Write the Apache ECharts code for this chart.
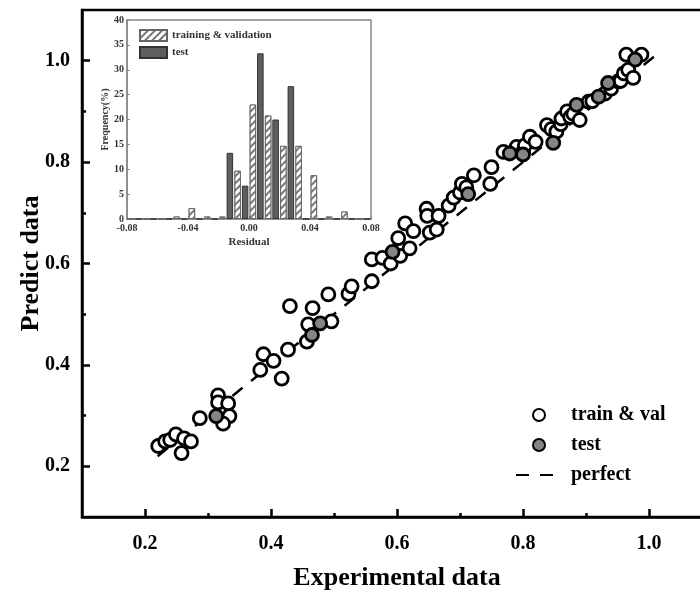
<!DOCTYPE html>
<html>
<head>
<meta charset="utf-8">
<script src="https://cdn.jsdelivr.net/npm/echarts@6/dist/echarts.min.js"></script>
<style>
html,body{margin:0;padding:0;background:#fff;}
#chart{width:700px;height:592px;}
</style>
</head>
<body>
<div id="chart"></div>
<script>
// ---- main scatter data ----
const trainX = [0.221,0.232,0.240,0.249,0.258,0.262,0.273,0.287,0.316,0.316,0.332,0.334,0.324,
  0.383,0.388,0.404,0.417,0.427,0.430,0.466,0.459,0.496,0.457,0.491,0.523,0.528,
  0.560,0.560,0.577,0.590,0.605,0.602,0.613,0.620,0.626,0.647,0.648,0.652,0.663,0.666,0.682,
  0.690,0.700,0.703,0.710,0.722,0.748,0.750,0.769,0.790,0.800,0.803,0.811,0.820,0.838,0.845,
  0.853,0.860,0.861,0.870,0.875,0.880,0.890,0.904,0.910,0.930,0.940,0.951,0.955,0.960,0.967,
  0.975,0.964,0.988];
const trainY = [0.240,0.249,0.252,0.263,0.226,0.255,0.249,0.295,0.340,0.326,0.324,0.299,0.284,
  0.390,0.421,0.408,0.373,0.430,0.516,0.512,0.480,0.486,0.446,0.539,0.540,0.555,
  0.565,0.608,0.611,0.600,0.615,0.650,0.679,0.630,0.664,0.708,0.694,0.661,0.667,0.694,0.714,
  0.730,0.740,0.757,0.750,0.774,0.757,0.790,0.820,0.830,0.820,0.833,0.850,0.840,0.873,0.865,
  0.860,0.875,0.886,0.900,0.889,0.895,0.883,0.919,0.920,0.935,0.945,0.959,0.960,0.975,0.982,
  0.966,1.012,1.012];
const testX = [0.313,0.465,0.478,0.593,0.713,0.779,0.800,0.848,0.885,0.920,0.935,0.978];
const testY = [0.299,0.459,0.482,0.623,0.737,0.817,0.815,0.838,0.913,0.929,0.956,1.002];
const perfectX = [0.22, 1.01];
const perfectY = [0.22, 1.01];

// ---- axis ticks ----
const majorTicks = [0.2, 0.4, 0.6, 0.8, 1.0];
const minorTicks = [0.3, 0.5, 0.7, 0.9];

// ---- inset histogram ----
const binCenters = ['-0.075','-0.065','-0.055','-0.045','-0.035','-0.025','-0.015','-0.005',
  '0.005','0.015','0.025','0.035','0.045','0.055','0.065','0.075'];
const trainFreq = [0,0,0,0.5,2.2,0.5,0.5,9.7,23.0,20.8,14.7,14.7,8.8,0.5,1.5,0];
const testFreq  = [0,0,0,0,0,0,13.3,6.7,33.3,20.0,26.7,0,0,0,0,0];

const zip = (a, b) => a.map((v, i) => [v, b[i]]);
const SERIF = 'Liberation Serif';

const chart = echarts.init(document.getElementById('chart'), null, {renderer: 'canvas'});
const bigLabel = {fontFamily: SERIF, fontWeight: 'bold', fontSize: 20, color: '#000'};
const smallLabel = {fontFamily: SERIF, fontWeight: 'bold', fontSize: 10, color: '#333'};

chart.setOption({
  backgroundColor: '#fff',
  animation: false,
  grid: [
    {left: 82, top: 10, width: 630, height: 507, outerBoundsMode: 'none', containLabel: false,
     show: true, borderColor: '#000', borderWidth: 2.5, backgroundColor: 'transparent'},
    {left: 127, top: 20, width: 244, height: 199, outerBoundsMode: 'none', containLabel: false,
     show: true, borderColor: '#888', borderWidth: 1.5, backgroundColor: '#fff', z: 5}
  ],
  xAxis: [
    {type: 'value', gridIndex: 0, position: 'bottom', min: 0.1, max: 1.1,
     name: 'Experimental data', nameLocation: 'middle', nameGap: 48,
     nameTextStyle: {fontFamily: SERIF, fontWeight: 'bold', fontSize: 26, color: '#000'},
     axisLine: {show: true, onZero: false, lineStyle: {color: '#000', width: 2.5}},
     axisTick: {show: true, inside: true, length: 8, customValues: majorTicks, lineStyle: {color: '#000', width: 2.5}},
     axisLabel: Object.assign({margin: 17, customValues: majorTicks, formatter: v => v.toFixed(1)}, bigLabel),
     splitLine: {show: false}},
    {type: 'value', gridIndex: 0, position: 'bottom', min: 0.1, max: 1.1,
     axisLine: {show: false, onZero: false},
     axisTick: {show: true, inside: true, length: 4, customValues: minorTicks, lineStyle: {color: '#000', width: 2.5}},
     axisLabel: {show: false}, splitLine: {show: false}},
    {type: 'value', gridIndex: 1, position: 'bottom', min: -0.08, max: 0.08, interval: 0.04,
     name: 'Residual', nameLocation: 'middle', nameGap: 18,
     nameTextStyle: Object.assign({}, smallLabel, {fontSize: 11}),
     axisLine: {show: true, onZero: false, lineStyle: {color: '#888', width: 1.5}},
     axisTick: {show: true, inside: true, length: 3, lineStyle: {color: '#888'}},
     axisLabel: Object.assign({margin: 4, formatter: v => v.toFixed(2)}, smallLabel),
     splitLine: {show: false}, z: 6},
    {type: 'category', gridIndex: 1, position: 'bottom', data: binCenters, show: false, boundaryGap: true,
     axisLine: {onZero: false}}
  ],
  yAxis: [
    {type: 'value', gridIndex: 0, position: 'left', min: 0.1, max: 1.1,
     name: 'Predict data', nameLocation: 'middle', nameGap: 38, nameMoveOverlap: false,
     nameTextStyle: {fontFamily: SERIF, fontWeight: 'bold', fontSize: 26, color: '#000'},
     axisLine: {show: true, onZero: false, lineStyle: {color: '#000', width: 2.5}},
     axisTick: {show: true, inside: true, length: 8, customValues: majorTicks, lineStyle: {color: '#000', width: 2.5}},
     axisLabel: Object.assign({margin: 12, customValues: majorTicks, formatter: v => v.toFixed(1)}, bigLabel),
     splitLine: {show: false}},
    {type: 'value', gridIndex: 0, position: 'left', min: 0.1, max: 1.1,
     axisLine: {show: false, onZero: false},
     axisTick: {show: true, inside: true, length: 4, customValues: minorTicks, lineStyle: {color: '#000', width: 2.5}},
     axisLabel: {show: false}, splitLine: {show: false}},
    {type: 'value', gridIndex: 1, position: 'left', min: 0, max: 40, interval: 5,
     name: 'Frequency(%)', nameLocation: 'middle', nameGap: 17,
     nameTextStyle: Object.assign({}, smallLabel, {fontSize: 10}),
     axisLine: {show: true, onZero: false, lineStyle: {color: '#888', width: 1.5}},
     axisTick: {show: true, inside: true, length: 3, lineStyle: {color: '#888'}},
     axisLabel: Object.assign({margin: 3}, smallLabel),
     splitLine: {show: false}, z: 6}
  ],
  legend: [
    {orient: 'vertical', left: 510, top: 400, itemWidth: 46, itemHeight: 12, itemGap: 10,
     data: ['train & val', 'test', 'perfect'],
     textStyle: {fontFamily: SERIF, fontWeight: 'bold', fontSize: 20, color: '#000', padding: [0, 0, 0, 4]}},
    {orient: 'vertical', left: 134, top: 24, itemWidth: 27, itemHeight: 11, itemGap: 4, icon: 'rect',
     data: ['training & validation', 'test_hist'],
     formatter: n => n === 'test_hist' ? 'test' : n,
     textStyle: {fontFamily: SERIF, fontWeight: 'bold', fontSize: 11, color: '#333'}, z: 10}
  ],
  series: [
    {name: 'perfect', type: 'line', xAxisIndex: 0, yAxisIndex: 0, data: zip(perfectX, perfectY),
     symbol: 'none', showSymbol: false, symbolSize: 0,
     itemStyle: {color: 'rgba(0,0,0,0)', borderWidth: 0},
     lineStyle: {color: '#000', width: 2.5, type: [13, 11]}, z: 1},
    {name: 'train & val', type: 'scatter', xAxisIndex: 0, yAxisIndex: 0, data: zip(trainX, trainY),
     symbol: 'circle', symbolSize: 13,
     itemStyle: {color: '#fff', borderColor: '#000', borderWidth: 2.8, opacity: 1}, z: 2},
    {name: 'test', type: 'scatter', xAxisIndex: 0, yAxisIndex: 0, data: zip(testX, testY),
     symbol: 'circle', symbolSize: 13,
     itemStyle: {color: '#858585', borderColor: '#000', borderWidth: 2.8, opacity: 1}, z: 3},
    {name: 'training & validation', type: 'bar', xAxisIndex: 3, yAxisIndex: 2, data: trainFreq,
     barWidth: 6.5, barGap: '15%',
     itemStyle: {color: '#fff', borderColor: '#666', borderWidth: 1,
       decal: {symbol: 'rect', symbolSize: 1, dashArrayX: [1, 0], dashArrayY: [1.5, 2.5], rotation: -Math.PI / 4, color: '#777', backgroundColor: '#fff'}},
     z: 7},
    {name: 'test_hist', type: 'bar', xAxisIndex: 3, yAxisIndex: 2, data: testFreq,
     barWidth: 6.5, barGap: '15%',
     itemStyle: {color: '#5e5e5e', borderColor: '#333', borderWidth: 1}, z: 7}
  ]
});
</script>
</body>
</html>
